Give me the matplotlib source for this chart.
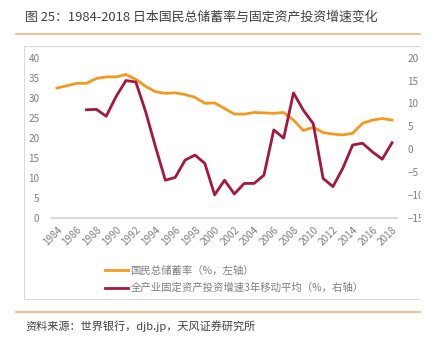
import matplotlib
matplotlib.use('Agg')
import matplotlib.pyplot as plt
from matplotlib.patches import Rectangle
from matplotlib.lines import Line2D

plt.rcParams['font.family'] = ['Noto Sans CJK SC', 'DejaVu Sans']

# Data
years = list(range(1984, 2019))
saving_rate = [32.4, 33.0, 33.6, 33.6, 34.8, 35.2, 35.2, 35.8, 34.6, 32.8,
               31.5, 31.1, 31.2, 30.8, 30.1, 28.6, 28.7, 27.3, 25.9, 25.9,
               26.3, 26.2, 26.1, 26.3, 24.4, 21.8, 22.6, 21.3, 20.9, 20.7,
               21.1, 23.6, 24.4, 24.8, 24.4]
invest_years = list(range(1987, 2019))
invest_growth = [8.6, 8.7, 7.2, 11.5, 15.0, 14.7, 8.2, 0.5, -6.8, -6.2,
                 -2.4, -1.3, -3.1, -10.0, -6.8, -9.8, -7.5, -7.5, -5.7, 4.2,
                 2.4, 12.3, 8.5, 5.6, -6.4, -8.2, -4.2, 0.9, 1.3, -0.6,
                 -2.2, 1.4]
xtick_years = list(range(1984, 2019, 2))
left_ticks = [0, 5, 10, 15, 20, 25, 30, 35, 40]
right_ticks = [-15, -10, -5, 0, 5, 10, 15, 20]

orange = '#F39A1E'
red = '#A3183C'
grey = '#7F7F7F'

W, H = 433, 341
fig = plt.figure(figsize=(W / 100, H / 100), dpi=100)

# Title, rules and source
fig.text(25 / W, 1 - 17 / H, '图 25：1984-2018 日本国民总储蓄率与固定资产投资增速变化',
         fontsize=9.3, color='#404040', va='center', ha='left')
fig.add_artist(Line2D([16 / W, 421 / W], [1 - 34 / H] * 2, color='#F7B27A', lw=1.2))
fig.add_artist(Line2D([16 / W, 421 / W], [1 - 312 / H] * 2, color='#F7B27A', lw=1.2))
fig.text(25 / W, 1 - 326 / H, '资料来源：世界银行，djb.jp，天风证券研究所',
         fontsize=8, color='#404040', va='center', ha='left')

# Chart frame
fig.add_artist(Rectangle((24 / W, 1 - 299 / H), 400 / W, 253 / H,
                         fill=False, ec='#D9D9D9', lw=0.8))

ax = fig.add_axes([52 / W, 1 - 217.7 / H, 345 / W, 160 / H])
ax2 = ax.twinx()

ax.plot(years, saving_rate, color=orange, lw=2, solid_joinstyle='round')
ax2.plot(invest_years, invest_growth, color=red, lw=2, solid_joinstyle='round')

ax.set_xlim(1983.5, 2018.5)
ax.set_ylim(0, 40)
ax2.set_ylim(-15, 20)
ax.set_yticks(left_ticks)
ax2.set_yticks(right_ticks)
ax.set_xticks(xtick_years)
ax.set_xticklabels([str(y) for y in xtick_years], rotation=45, ha='right',
                   va='top', rotation_mode='anchor')

for a in (ax, ax2):
    for s in a.spines.values():
        s.set_visible(False)
    a.tick_params(length=0, labelsize=7.2, labelcolor=grey)
ax.spines['bottom'].set_visible(True)
ax.spines['bottom'].set_color('#D9D9D9')
ax.spines['bottom'].set_linewidth(1.5)
ax.tick_params(axis='y', pad=9)
ax.tick_params(axis='x', pad=5)
ax2.tick_params(axis='y', pad=7.5)

# Legend
handles = [Line2D([], [], color=orange, lw=2), Line2D([], [], color=red, lw=2)]
labels = ['国民总储蓄率（%，左轴）', '全产业固定资产投资增速3年移动平均（%，右轴）']
fig.legend(handles, labels, loc='upper left', bbox_to_anchor=(96 / W, 1 - 256 / H),
           frameon=False, fontsize=7.5, labelcolor=grey, handlelength=2.2,
           handletextpad=0.2, labelspacing=0.7)

# Right edge clipped as in the source image
fig.add_artist(Rectangle((421 / W, 0), 12 / W, 1, color='white', zorder=10))

fig.savefig('out.png', dpi=100)
